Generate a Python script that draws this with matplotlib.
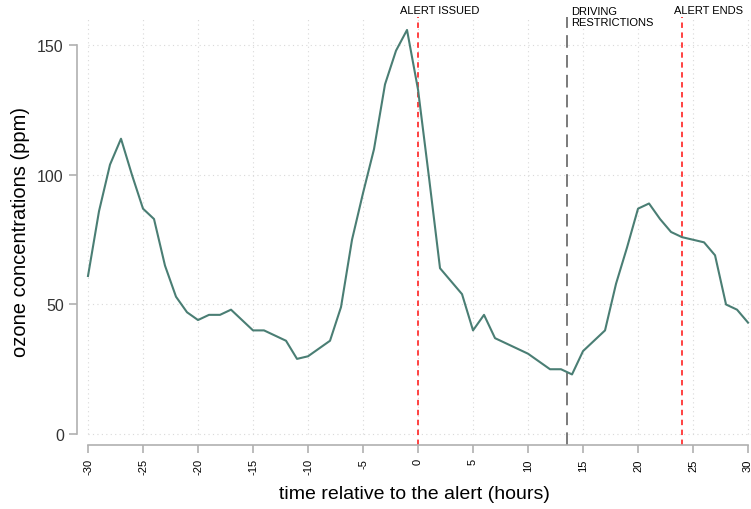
import matplotlib.pyplot as plt
import numpy as np

plt.rcParams['font.family'] = ['Liberation Sans', 'DejaVu Sans']

# hours relative to the alert and ozone readings
hours = np.arange(-30, 31)
ozone = [61, 86, 104, 114, 100, 87, 83, 65, 53, 47,
         44, 46, 46, 48, 44, 40, 40, 38, 36, 29,
         30, 33, 36, 49, 75, 93, 110, 135, 148, 156,
         133, 99, 64, 59, 54, 40, 46, 37, 35, 33,
         31, 28, 25, 25, 23, 32, 36, 40, 58, 72,
         87, 89, 83, 78, 76, 75, 74, 69, 50, 48, 43]

events = [0, 13.5, 24]
event_labels = ['ALERT ISSUED', 'DRIVING\nRESTRICTIONS', 'ALERT ENDS']
label_x = [-1.65, 13.9, 23.3]

xticks = list(range(-30, 31, 5))
yticks = [0, 50, 100, 150]

fig = plt.figure(figsize=(7.51, 5.10), dpi=100)
ax = fig.add_axes([77 / 751, (510 - 446) / 510, (751 - 77) / 751, (446 - 18) / 510])

ax.set_xlim(-31, 30.27)
ax.set_ylim(-4.25, 161)

# grid
for t in xticks:
    ax.plot([t, t], [0, 161], color='#d9d9d9', lw=0.8, ls=(0, (1, 3)), zorder=1)
for v in yticks:
    ax.plot([-30, 30.27], [v, v], color='#d9d9d9', lw=0.8, ls=(0, (1, 3)), zorder=1)

ax.plot(hours, ozone, color='#4a7e74', lw=1.5, zorder=3)

# event lines
ax.axvline(events[0], color='#ff3333', lw=1.3, ls=(0, (3, 2.5)), zorder=2)
ax.axvline(events[1], color='#707070', lw=1.3, ls=(0, (7, 4)), zorder=2)
ax.axvline(events[2], color='#ff3333', lw=1.3, ls=(0, (3, 2.5)), zorder=2)

ax.text(label_x[0], 161.6, event_labels[0], fontsize=8, ha='left', va='bottom')
ax.text(label_x[1], 157.2, event_labels[1], fontsize=8, ha='left', va='bottom',
        linespacing=1.05)
ax.text(label_x[2], 161.6, event_labels[2], fontsize=8, ha='left', va='bottom')

for s in ['top', 'right']:
    ax.spines[s].set_visible(False)
ax.spines['left'].set_bounds(0, 150)
ax.spines['bottom'].set_bounds(-30, 30)
for s in ['left', 'bottom']:
    ax.spines[s].set_color('#b0b0b0')
    ax.spines[s].set_linewidth(1.2)

ax.set_xticks(xticks)
ax.set_xticklabels([str(t) for t in xticks], rotation=90, fontsize=8)
ax.set_yticks(yticks)
ax.set_yticklabels([str(v) for v in yticks], fontsize=11.5, color='#333333')
ax.tick_params(axis='both', color='#b0b0b0', width=1.2, length=6)

ax.set_xlabel('time relative to the alert (hours)', fontsize=14, labelpad=8)
ax.set_ylabel('ozone concentrations (ppm)', fontsize=14.5, labelpad=5)

fig.savefig('out.png', dpi=100)
